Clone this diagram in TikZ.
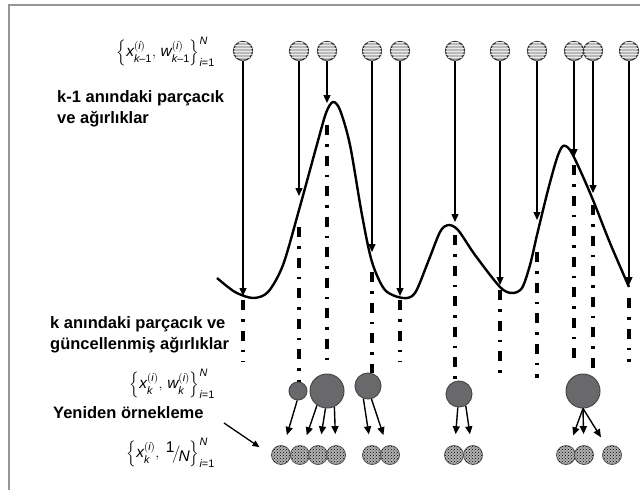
\documentclass[tikz,border=0pt]{standalone}
\usepackage{amsmath}
\usepackage{fontspec}
\setmainfont{Liberation Sans}
\usetikzlibrary{arrows.meta, patterns, calc}
\definecolor{framegray}{RGB}{150,150,150}
\definecolor{ballgray}{RGB}{105,105,108}
\definecolor{stripe}{RGB}{235,235,235}
\newcommand{\smi}[1]{\text{\itshape #1}}

\begin{document}
\begin{tikzpicture}[x=1pt, y=-1pt,
  oldp/.style={circle, draw=black!80, line width=1.2pt, fill=gray!55, minimum size=19pt, inner sep=0pt,
    postaction={pattern=horizontal lines, pattern color=stripe}},
  newp/.style={circle, draw=black!65, line width=0.8pt, fill=gray!60, minimum size=19pt, inner sep=0pt,
    postaction={pattern=crosshatch dots, pattern color=black}},
  wp/.style={circle, draw=ballgray!70!black, line width=1pt, fill=ballgray, inner sep=0pt},
  drop/.style={-{Triangle[length=8pt,width=7pt]}, line width=1.3pt},
  proj/.style={line width=3.2pt, dash pattern=on 10pt off 9pt on 2.5pt off 9pt},
  resamp/.style={-{Triangle[length=8pt,width=7pt]}, line width=1.4pt, shorten >=11pt},
  lbl/.style={font=\fontsize{16.5}{20.5}\selectfont\bfseries, anchor=west, align=left, inner sep=0pt},
  set/.style={font=\fontsize{15.5}{17}\selectfont, anchor=east, inner sep=0pt},
]
\useasboundingbox (0,0) rectangle (640,490);
\draw[framegray, line width=1.5pt] (9,490) -- (9,5) -- (640,5);

% likelihood
\draw[line width=2.4pt] plot[smooth, tension=0.5] coordinates {(217,278) (235,292) (253,298) (268,292)
  (283,265) (299,210) (316,148) (326,113) (333,102) (340,110) (350,145) (362,215) (372,262) (385,290)
  (403,298) (415,293) (428,262) (440,232) (448,225) (458,230) (475,255) (500,287) (512,293) (522,288)
  (530,265) (537,235) (548,190) (557,158) (563,146) (570,150) (580,170) (593,200) (610,243) (629,287)};

% particles at k-1, drops and projections
\foreach \x/\t/\a/\b [count=\i] in {243/296/300/362, 299/196/227/384, 327/103/125/366, 372/252/272/373,
  400/296/300/362, 455/222/235/381, 500/285/290/378, 537/220/252/378, 574/157/165/362, 593/193/205/372, 629/285/298/362}
{
  \node[oldp] (p\i) at (\x,51) {};
  \coordinate (t\i) at (\x,\t);
  \coordinate (s\i) at (\x,\a);
  \coordinate (e\i) at (\x,\b);
  \draw[drop] (p\i) -- (t\i);
  \draw[proj] (s\i) -- (e\i);
}

% weighted particles at k
\node[wp, minimum size=18pt] (wa) at (298,391) {};
\node[wp, minimum size=34pt] (wb) at (327,391) {};
\node[wp, minimum size=26pt] (wc) at (368,386) {};
\node[wp, minimum size=26pt] (wd) at (459,394) {};
\node[wp, minimum size=34pt] (we) at (583,391) {};

% resampled
\foreach \x [count=\i] in {281,300,318,336,372,390,454,473,566,584,612}
  \node[newp] (q\i) at (\x,455) {};
\foreach \s/\t in {wa.-95/q1, wb.-125/q2, wb.-95/q3, wb.-65/q4, wc.-110/q5, wc.-75/q6,
  wd.-95/q7, wd.-60/q8, we.south/q9, we.south/q10, we.south/q11}
  \draw[resamp] (\s) -- (\t);

% labels
\node[set] (s1) at (215,52) {$\Bigl\{\smi{x}^{(\smi{i})}_{\smi{k}\text{--1}},\,\smi{w}^{(\smi{i})}_{\smi{k}\text{--1}}\Bigr\}^{\smi{N}}_{\smi{i}\text{=1}}$};
\node[lbl] (l1) at (57,109) {k-1 anındaki parçacık\\ve ağırlıklar};
\node[lbl] (l2) at (50,335) {k anındaki parçacık ve\\güncellenmiş ağırlıklar};
\node[set] (s2) at (215,384) {$\Bigl\{\smi{x}^{(\smi{i})}_{\smi{k}},\,\smi{w}^{(\smi{i})}_{\smi{k}}\Bigr\}^{\smi{N}}_{\smi{i}\text{=1}}$};
\node[lbl] (l3) at (53,413) {Yeniden örnekleme};
\node[set] (s3) at (215,453) {$\Bigl\{\smi{x}^{(\smi{i})}_{\smi{k}},\;\raisebox{5pt}{1}\kern-1.5pt\big/\kern-2.5pt\raisebox{-4pt}{\smi{N}}\Bigr\}^{\smi{N}}_{\smi{i}\text{=1}}$};
\coordinate (r0) at (224,423);
\draw[-{Triangle[length=7pt,width=6pt]}, line width=1.3pt, shorten >=14pt] (r0) -- (q1.west);
\end{tikzpicture}
\end{document}
